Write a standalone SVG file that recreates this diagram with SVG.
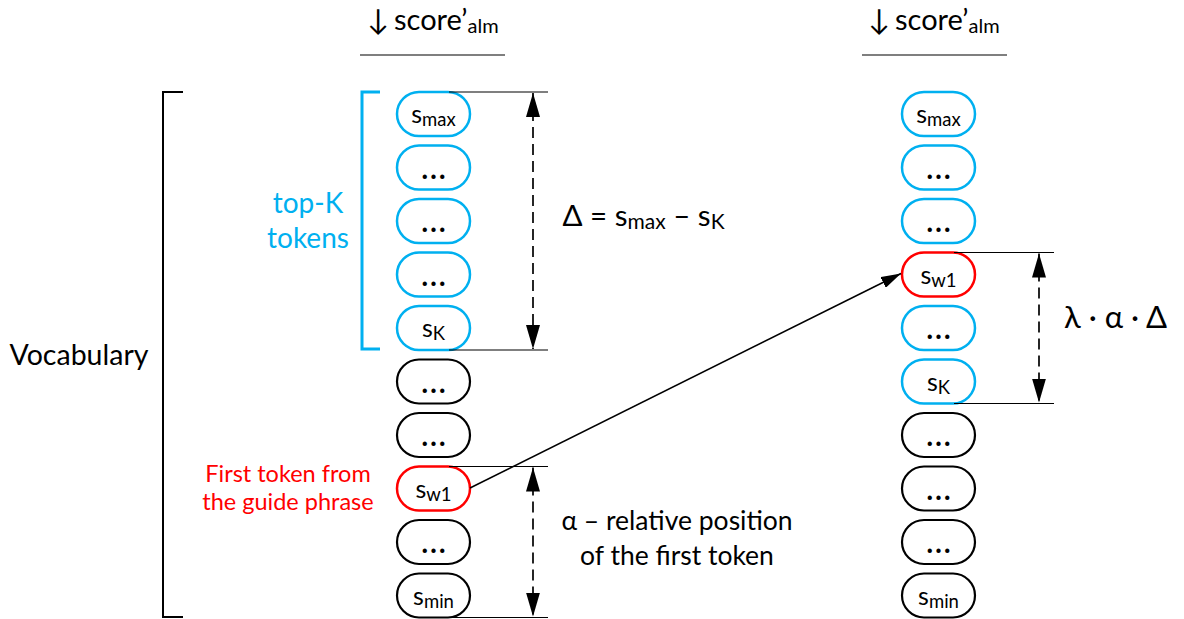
<svg xmlns="http://www.w3.org/2000/svg" width="1184" height="619" viewBox="0 0 1184 619">
<defs>
<style>
text{font-family:Lato,"DejaVu Sans",sans-serif;fill:#000}
.pill{fill:#fff;stroke-width:2.5}
.blue{stroke:#00B0F0}
.black{stroke:#000;stroke-width:2.2}
.red{stroke:#FF0000}
.pt{font-size:25px;text-anchor:middle}
.el{font-size:34px;text-anchor:middle}
.sub{font-size:18.5px}
.big{font-size:28.5px;text-anchor:middle}
.hd{font-size:29px}
.thin{stroke:#000;stroke-width:1.2;fill:none}
.dash{stroke:#000;stroke-width:1.7;stroke-dasharray:11 6;fill:none}
</style>
<marker id="ah" viewBox="0 0 24 14" refX="24" refY="7" markerWidth="24" markerHeight="14" markerUnits="userSpaceOnUse" orient="auto-start-reverse">
<path d="M0,0 L24,7 L0,14 Z" fill="#000"/>
</marker>
<marker id="ah2" viewBox="0 0 20 12" refX="20" refY="6" markerWidth="20" markerHeight="12" markerUnits="userSpaceOnUse" orient="auto">
<path d="M0,0 L20,6 L0,12 Z" fill="#000"/>
</marker>
</defs>

<g id="headers">
<text class="hd" x="378" y="30" text-anchor="middle">↓</text>
<text class="hd" x="394" y="30">score’<tspan font-size="20" dy="3">alm</tspan></text>
<line class="thin" x1="360" y1="55" x2="505" y2="55"/>
<text class="hd" x="879" y="30" text-anchor="middle">↓</text>
<text class="hd" x="895" y="30">score’<tspan font-size="20" dy="3">alm</tspan></text>
<line class="thin" x1="862" y1="55" x2="1007" y2="55"/>
</g>

<g id="vocabulary">
<path d="M183,92 H163 V617 H183" fill="none" stroke="#000" stroke-width="2"/>
<text class="big" x="79" y="365">Vocabulary</text>
</g>

<g id="topk">
<path d="M380,92 H362 V349 H380" fill="none" stroke="#00B0F0" stroke-width="3"/>
<text x="308" y="213" font-size="28" text-anchor="middle" style="fill:#00B0F0">top-K</text>
<text x="308" y="248" font-size="28" text-anchor="middle" style="fill:#00B0F0">tokens</text>
</g>

<g id="left-column">
<g id="l0"><rect class="pill blue" x="397" y="92" width="73" height="44" rx="22"/><text class="pt" x="433.5" y="123">s<tspan class="sub" dy="3">max</tspan></text></g>
<g id="l1"><rect class="pill blue" x="397" y="145.5" width="73" height="44" rx="22"/><text class="el" x="433.5" y="178.5">…</text></g>
<g id="l2"><rect class="pill blue" x="397" y="199" width="73" height="44" rx="22"/><text class="el" x="433.5" y="232">…</text></g>
<g id="l3"><rect class="pill blue" x="397" y="252.5" width="73" height="44" rx="22"/><text class="el" x="433.5" y="285.5">…</text></g>
<g id="l4"><rect class="pill blue" x="397" y="306" width="73" height="44" rx="22"/><text class="pt" x="433.5" y="337">s<tspan class="sub" dy="3">K</tspan></text></g>
<g id="l5"><rect class="pill black" x="397" y="359.5" width="73" height="44" rx="22"/><text class="el" x="433.5" y="392.5">…</text></g>
<g id="l6"><rect class="pill black" x="397" y="413" width="73" height="44" rx="22"/><text class="el" x="433.5" y="446">…</text></g>
<g id="l7"><rect class="pill red" x="397" y="466.5" width="73" height="44" rx="22"/><text class="pt" x="433.5" y="497.5">s<tspan class="sub" dy="3">w1</tspan></text></g>
<g id="l8"><rect class="pill black" x="397" y="520" width="73" height="44" rx="22"/><text class="el" x="433.5" y="553">…</text></g>
<g id="l9"><rect class="pill black" x="397" y="573.5" width="73" height="44" rx="22"/><text class="pt" x="433.5" y="604.5">s<tspan class="sub" dy="3">min</tspan></text></g>
</g>

<g id="right-column">
<g id="r0"><rect class="pill blue" x="902" y="92" width="73" height="44" rx="22"/><text class="pt" x="938.5" y="123">s<tspan class="sub" dy="3">max</tspan></text></g>
<g id="r1"><rect class="pill blue" x="902" y="145.5" width="73" height="44" rx="22"/><text class="el" x="938.5" y="178.5">…</text></g>
<g id="r2"><rect class="pill blue" x="902" y="199" width="73" height="44" rx="22"/><text class="el" x="938.5" y="232">…</text></g>
<g id="r3"><rect class="pill red" x="902" y="252.5" width="73" height="44" rx="22"/><text class="pt" x="938.5" y="283.5">s<tspan class="sub" dy="3">w1</tspan></text></g>
<g id="r4"><rect class="pill blue" x="902" y="306" width="73" height="44" rx="22"/><text class="el" x="938.5" y="339">…</text></g>
<g id="r5"><rect class="pill blue" x="902" y="359.5" width="73" height="44" rx="22"/><text class="pt" x="938.5" y="390.5">s<tspan class="sub" dy="3">K</tspan></text></g>
<g id="r6"><rect class="pill black" x="902" y="413" width="73" height="44" rx="22"/><text class="el" x="938.5" y="446">…</text></g>
<g id="r7"><rect class="pill black" x="902" y="466.5" width="73" height="44" rx="22"/><text class="el" x="938.5" y="499.5">…</text></g>
<g id="r8"><rect class="pill black" x="902" y="520" width="73" height="44" rx="22"/><text class="el" x="938.5" y="553">…</text></g>
<g id="r9"><rect class="pill black" x="902" y="573.5" width="73" height="44" rx="22"/><text class="pt" x="938.5" y="604.5">s<tspan class="sub" dy="3">min</tspan></text></g>
</g>

<g id="labels">
<text x="643.5" y="226" font-size="29.5" text-anchor="middle">Δ = s<tspan font-size="21" dy="3">max</tspan><tspan dy="-3"> – s</tspan><tspan font-size="21" dy="3">K</tspan></text>
<text x="1115.5" y="328" font-size="31" text-anchor="middle">λ · α · Δ</text>
<text x="677" y="530" font-size="26.5" text-anchor="middle">α – relative position</text>
<text x="677" y="565" font-size="26.5" text-anchor="middle">of the first token</text>
<text x="288" y="482" font-size="23.5" text-anchor="middle" style="fill:#FF0000">First token from</text>
<text x="288" y="510" font-size="23.5" text-anchor="middle" style="fill:#FF0000">the guide phrase</text>
</g>

<g id="connectors">
<line class="thin" x1="449" y1="92" x2="548" y2="92"/>
<line class="thin" x1="449" y1="350" x2="548" y2="350"/>
<line class="thin" x1="449" y1="466.5" x2="548" y2="466.5"/>
<line class="thin" x1="449" y1="617.5" x2="548" y2="617.5"/>
<line class="thin" x1="954" y1="252.5" x2="1054" y2="252.5"/>
<line class="thin" x1="954" y1="403.5" x2="1054" y2="403.5"/>
<line class="dash" x1="533" y1="93" x2="533" y2="349" marker-start="url(#ah)" marker-end="url(#ah)"/>
<line class="dash" x1="533" y1="467.5" x2="533" y2="616.5" marker-start="url(#ah)" marker-end="url(#ah)"/>
<line class="dash" x1="1039" y1="253.5" x2="1039" y2="402.5" marker-start="url(#ah)" marker-end="url(#ah)"/>
<line x1="470" y1="488" x2="901" y2="273.5" stroke="#000" stroke-width="1.6" marker-end="url(#ah2)"/>
</g>
</svg>
